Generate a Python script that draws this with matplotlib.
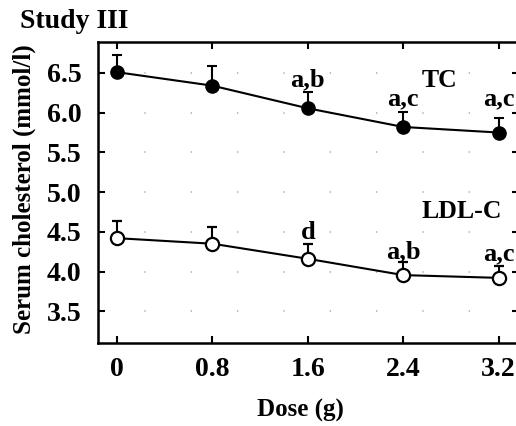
import matplotlib
matplotlib.use("Agg")
import matplotlib.pyplot as plt

dose = [0, 0.8, 1.6, 2.4, 3.2]
tc = [6.51, 6.34, 6.055, 5.82, 5.75]
tc_err = [0.22, 0.25, 0.20, 0.19, 0.18]
ldl = [4.42, 4.35, 4.16, 3.955, 3.92]
ldl_err = [0.21, 0.21, 0.19, 0.165, 0.15]
tc_marks = ["", "", "a,b", "a,c", "a,c"]
ldl_marks = ["", "", "d", "a,b", "a,c"]
xticks = [0, 0.8, 1.6, 2.4, 3.2]
xticklabels = ["0", "0.8", "1.6", "2.4", "3.2"]
yticks = [3.5, 4.0, 4.5, 5.0, 5.5, 6.0, 6.5]

plt.rcParams['font.family'] = ['Liberation Serif', 'DejaVu Serif']
plt.rcParams['font.weight'] = 'bold'

fig = plt.figure(figsize=(5.16, 4.26), dpi=100)
ax = fig.add_axes([98/516, 83/426, (519-98)/516, (343-42)/426])

# dotted grid
for y in yticks:
    ax.plot([-0.16, 3.37], [y, y], color='#b0b0b0', lw=1.2,
            linestyle=(0, (0.8, 27)), zorder=0, solid_capstyle='round')

ax.errorbar(dose, tc, yerr=[[0]*5, tc_err], fmt='-o', color='black',
            mfc='black', mec='black', ms=9.5, lw=1.5, elinewidth=1.5,
            capsize=3.5, capthick=1.5, zorder=3)
ax.errorbar(dose, ldl, yerr=[[0]*5, ldl_err], fmt='-o', color='black',
            mfc='white', mec='black', mew=1.6, ms=9.5, lw=1.5, elinewidth=1.5,
            capsize=3.5, capthick=1.5, zorder=3)

tc_y = [0, 0, 6.41, 6.17, 6.17]
ldl_y = [0, 0, 4.49, 4.25, 4.22]
for x, s, y in zip(dose, tc_marks, tc_y):
    if s:
        ax.text(x, y, s, ha='center', va='center', fontsize=19, fontweight='bold')
for x, s, y in zip(dose, ldl_marks, ldl_y):
    if s:
        ax.text(x, y, s, ha='center', va='center', fontsize=19, fontweight='bold')

ax.text(2.705, 6.41, "TC", ha='center', va='center', fontsize=18.5, fontweight='bold')
ax.text(2.89, 4.76, "LDL-C", ha='center', va='center', fontsize=18.5, fontweight='bold')

ax.set_xlim(-0.16, 3.37)
ax.set_ylim(3.1, 6.89)
ax.set_xticks(xticks)
ax.set_xticklabels(xticklabels)
ax.set_yticks(yticks)
ax.set_yticklabels([f"{v:.1f}" for v in yticks])
ax.tick_params(direction='in', length=5, width=1.5, top=True, right=True,
               labelsize=20)
ax.tick_params(axis='y', pad=12)
ax.tick_params(axis='x', pad=10)
for lab in ax.get_xticklabels() + ax.get_yticklabels():
    lab.set_fontweight('bold')
for sp in ax.spines.values():
    sp.set_linewidth(1.8)

ax.set_xlabel("Dose (g)", fontsize=18, fontweight='bold', va='center')
ax.xaxis.set_label_coords(0.5 - 8/421, -(410-343)/301)
ax.set_ylabel("Serum cholesterol (mmol/l)", fontsize=18, fontweight='bold', va='center')
ax.yaxis.set_label_coords(-(98-24)/421, 0.5 + 3/301)
fig.text(20/516, 1 - 22/426, "Study III", ha='left', va='center',
         fontsize=20, fontweight='bold')

fig.savefig("out.png", dpi=100)
